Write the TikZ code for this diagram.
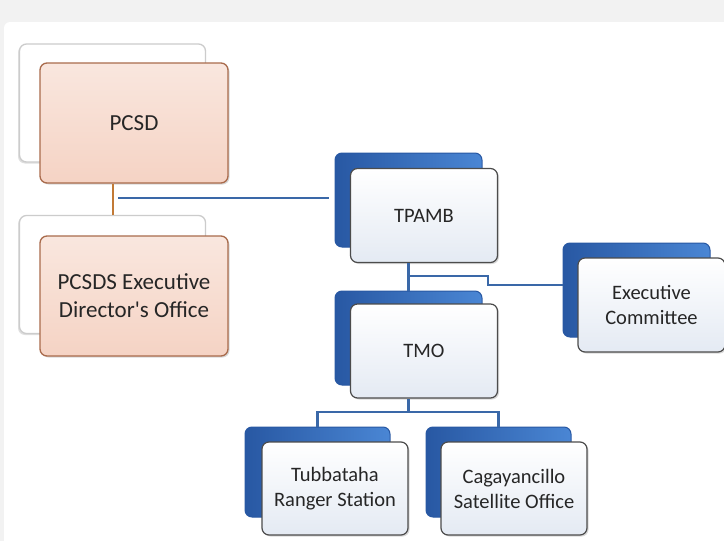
\documentclass[tikz,border=0pt]{standalone}
\usepackage{fontspec}
\setmainfont{Carlito}
\usetikzlibrary{shadows,calc}
\definecolor{peach}{HTML}{F5D3C4}
\definecolor{peachline}{HTML}{A96B4C}
\definecolor{boxblue}{HTML}{4A86D4}
\definecolor{boxbluedark}{HTML}{2858A3}
\definecolor{paleblue}{HTML}{E4EAF3}
\definecolor{linkblue}{HTML}{3A68A8}
\definecolor{linkorange}{HTML}{C27A36}
\tikzset{
  backpeach/.style={draw=gray!40, fill=white, rounded corners=7pt, line width=1.3pt,
    minimum width=186pt, minimum height=118pt,
    drop shadow={shadow xshift=-1.5pt, shadow yshift=-1.5pt, opacity=0.25}},
  frontpeach/.style={draw=peachline, top color=peach!55!white, bottom color=peach, rounded corners=7pt,
    line width=1.3pt, minimum width=188pt, minimum height=120pt, align=center, text=black!85,
    font=\fontsize{23}{28}\selectfont,
    drop shadow={shadow xshift=1.5pt, shadow yshift=-1.5pt, opacity=0.3}},
  backblue/.style={draw=boxbluedark, left color=boxbluedark, right color=boxblue, rounded corners=7pt,
    line width=1pt, minimum width=147pt, minimum height=94pt},
  frontblue/.style={draw=gray!60!black, top color=white, bottom color=paleblue, rounded corners=7pt,
    line width=1.2pt, minimum width=147pt, minimum height=94pt, align=center, text=black!85,
    font=\fontsize{20.5}{25}\selectfont,
    drop shadow={shadow xshift=1.5pt, shadow yshift=-1.5pt, opacity=0.3}},
  bluelink/.style={draw=linkblue, line width=2.2pt},
  orangelink/.style={draw=linkorange, line width=1.6pt},
}

\begin{document}
\begin{tikzpicture}[x=1pt,y=-1pt]
\useasboundingbox (0,0) rectangle (724,541);
% background
\fill[gray!10] (0,0) rectangle (724,541);
\fill[white, rounded corners=6pt] (4,22) rectangle (740,560);

% PCSD side
\node[backpeach] (pcsdb) at (112.5,103) {};
\node[frontpeach] (pcsd) at (134,123) {PCSD};
\node[backpeach] (edob) at (112.5,274.5) {};
\node[frontpeach] (edo) at (134,296) {PCSDS Executive\\Director\textquotesingle s Office};

% blue side
\node[backblue] (tpambb) at (408.5,200) {};
\node[frontblue] (tpamb) at (424,215.5) {TPAMB};
\node[backblue] (tmob) at (408.5,338) {};
\node[frontblue] (tmo) at (424,351) {TMO};
\node[backblue] (excomb) at (636.5,290) {};
\node[frontblue] (excom) at (651.5,305) {Executive\\Committee};
\node[backblue, minimum width=145pt, minimum height=90pt] (rangerb) at (317.5,472) {};
\node[frontblue, minimum width=146pt, minimum height=93pt] (ranger) at (335,488.5) {Tubbataha\\Ranger Station};
\node[backblue, minimum width=145pt, minimum height=90pt] (satb) at (498.5,472) {};
\node[frontblue, minimum width=146pt, minimum height=93pt] (sat) at (514,488.5) {Cagayancillo\\Satellite Office};

% links
\coordinate (jn) at (118,198);
\coordinate (tj) at (408.5,276);
\coordinate (bj) at (408.5,412);
\draw[orangelink] (pcsd.south -| 113,0) -- (edob.north -| 113,0);
\draw[bluelink, shorten >=6pt] (jn) -- (jn -| tpambb.west);
\draw[bluelink] (tpambb.center |- tpamb.south) -- (tmob.north);
\draw[bluelink] (tj) -- (488,276) -- (488,285) -- (excomb.west |- 0,285);
\draw[bluelink] (tmob.center |- tmo.south) -- (bj);
\draw[bluelink] (rangerb.north) -- (rangerb.north |- bj) -- (satb.north |- bj) -- (satb.north);
\end{tikzpicture}
\end{document}
